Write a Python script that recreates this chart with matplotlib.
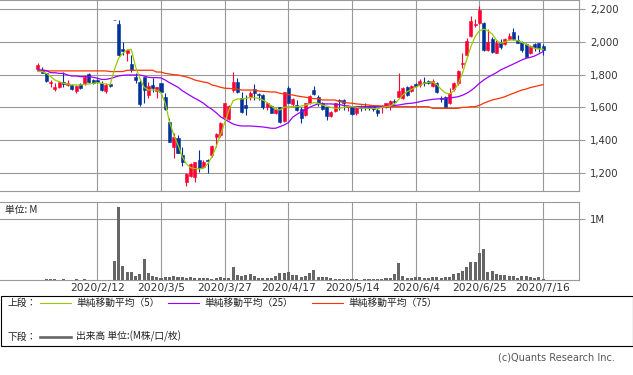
import matplotlib
matplotlib.use('Agg')
import matplotlib.pyplot as plt
from matplotlib.lines import Line2D
from matplotlib.patches import Rectangle
import numpy as np

# ─────────────────────────────────────────────
# data
# ─────────────────────────────────────────────
dates = (
    ['2020/1/%d' % d for d in (22, 23, 24, 27, 28, 29, 30, 31)]
    + ['2020/2/%d' % d for d in (3, 4, 5, 6, 7, 10, 12, 13, 14, 17, 18, 19, 20, 21, 25, 26, 27, 28)]
    + ['2020/3/%d' % d for d in (2, 3, 4, 5, 6, 9, 10, 11, 12, 13, 16, 17, 18, 19, 23, 24, 25, 26, 27, 30, 31)]
    + ['2020/4/%d' % d for d in (1, 2, 3, 6, 7, 8, 9, 10, 13, 14, 15, 16, 17, 20, 21, 22, 23, 24, 27, 28, 30)]
    + ['2020/5/%d' % d for d in (1, 7, 8, 11, 12, 13, 14, 15, 18, 19, 20, 21, 22, 25, 26, 27, 28, 29)]
    + ['2020/6/%d' % d for d in (1, 2, 3, 4, 5, 8, 9, 10, 11, 12, 15, 16, 17, 18, 19, 22, 23, 24, 25, 26, 29, 30)]
    + ['2020/7/%d' % d for d in (1, 2, 3, 6, 7, 8, 9, 10, 13, 14, 15, 16)]
)

open_ = [1835, 1827, 1808, 1747, 1710, 1723, 1753, 1739, 1735, 1700,
         1743, 1741, 1804, 1767, 1767, 1747, 1702, 1743, 2133, 2110,
         1957, 1931, 1865, 1784, 1757, 1784, 1676, 1737, 1702, 1747,
         1666, 1510, 1360, 1411, 1309, 1145, 1180, 1176, 1278, 1237,
         1278, 1309, 1417, 1431, 1543, 1527, 1706, 1757, 1659, 1614,
         1661, 1710, 1682, 1676, 1600, 1608, 1563, 1600, 1519, 1720,
         1621, 1617, 1588, 1551, 1625, 1706, 1661, 1625, 1600, 1547,
         1580, 1645, 1645, 1600, 1600, 1563, 1604, 1608, 1608, 1608,
         1584, 1600, 1604, 1621, 1641, 1661, 1655, 1727, 1702, 1743,
         1737, 1757, 1761, 1731, 1751, 1655, 1661, 1629, 1710, 1747,
         1865, 1920, 2037, 2102, 2118, 2118, 1951, 2016, 1935, 2002,
         1988, 2016, 2063, 2012, 2002, 1988, 1931, 1986, 1992, 1978]
high = [1869, 1849, 1812, 1767, 1751, 1763, 1818, 1767, 1743, 1737,
        1747, 1796, 1808, 1772, 1774, 1759, 1747, 1747, 2133, 2135,
        2002, 1959, 1920, 1808, 1767, 1788, 1757, 1778, 1727, 1751,
        1686, 1533, 1441, 1431, 1360, 1196, 1257, 1268, 1339, 1278,
        1282, 1368, 1441, 1512, 1629, 1614, 1818, 1782, 1696, 1676,
        1702, 1743, 1686, 1680, 1635, 1612, 1594, 1604, 1696, 1731,
        1655, 1645, 1600, 1629, 1676, 1731, 1676, 1635, 1604, 1580,
        1629, 1651, 1649, 1614, 1604, 1608, 1612, 1625, 1614, 1612,
        1594, 1614, 1629, 1645, 1649, 1812, 1723, 1731, 1737, 1747,
        1772, 1784, 1767, 1776, 1757, 1670, 1670, 1716, 1757, 1829,
        1931, 2022, 2159, 2139, 2220, 2124, 2078, 2029, 2012, 2016,
        2022, 2053, 2086, 2043, 2008, 1996, 1982, 1992, 1996, 1986]
low = [1829, 1808, 1757, 1727, 1700, 1716, 1723, 1731, 1706, 1690,
       1714, 1735, 1751, 1743, 1749, 1702, 1690, 1723, 2133, 1916,
       1920, 1884, 1819, 1751, 1608, 1629, 1655, 1696, 1655, 1676,
       1584, 1386, 1288, 1319, 1243, 1119, 1176, 1145, 1206, 1231,
       1196, 1298, 1360, 1421, 1519, 1523, 1696, 1690, 1564, 1553,
       1645, 1645, 1645, 1590, 1584, 1563, 1559, 1506, 1512, 1625,
       1604, 1578, 1506, 1547, 1621, 1676, 1608, 1584, 1523, 1543,
       1574, 1584, 1584, 1580, 1553, 1553, 1580, 1584, 1584, 1580,
       1547, 1567, 1594, 1584, 1621, 1655, 1649, 1670, 1696, 1727,
       1723, 1731, 1743, 1723, 1686, 1635, 1600, 1621, 1702, 1737,
       1839, 1914, 2033, 2090, 2110, 1947, 1947, 1935, 1931, 1955,
       1982, 2012, 2012, 1992, 1941, 1906, 1927, 1947, 1941, 1920]
close = [1859, 1812, 1763, 1755, 1727, 1757, 1743, 1749, 1714, 1731,
         1720, 1788, 1755, 1747, 1755, 1706, 1737, 1731, 2133, 1918,
         1947, 1951, 1829, 1767, 1621, 1706, 1731, 1716, 1723, 1696,
         1588, 1390, 1421, 1323, 1268, 1192, 1253, 1264, 1227, 1268,
         1270, 1364, 1437, 1502, 1625, 1608, 1757, 1696, 1574, 1594,
         1690, 1690, 1674, 1600, 1629, 1567, 1588, 1512, 1692, 1629,
         1649, 1584, 1533, 1625, 1670, 1682, 1625, 1588, 1547, 1574,
         1625, 1639, 1625, 1608, 1559, 1604, 1594, 1600, 1598, 1588,
         1563, 1608, 1625, 1639, 1635, 1702, 1716, 1676, 1731, 1733,
         1763, 1747, 1747, 1763, 1696, 1649, 1604, 1686, 1747, 1825,
         1873, 2008, 2131, 2110, 2196, 1951, 2002, 1941, 1996, 1972,
         2016, 2037, 2016, 1996, 1951, 1910, 1976, 1972, 1961, 1951]

ma5 = [1819, 1819, 1808, 1788, 1767, 1757, 1747, 1743, 1737, 1737,
       1737, 1741, 1743, 1747, 1751, 1747, 1743, 1737, 1829, 1900,
       1931, 1951, 1955, 1849, 1778, 1723, 1706, 1706, 1706, 1690,
       1625, 1512, 1431, 1370, 1298, 1253, 1231, 1225, 1223, 1227,
       1253, 1298, 1360, 1431, 1506, 1584, 1641, 1651, 1651, 1655,
       1661, 1659, 1655, 1645, 1629, 1608, 1588, 1584, 1600, 1604,
       1604, 1604, 1608, 1614, 1621, 1629, 1625, 1614, 1608, 1600,
       1594, 1594, 1600, 1604, 1604, 1600, 1596, 1594, 1594, 1594,
       1590, 1600, 1604, 1608, 1621, 1649, 1676, 1696, 1710, 1723,
       1735, 1747, 1753, 1755, 1739, 1710, 1688, 1682, 1702, 1743,
       1808, 1890, 1972, 2033, 2069, 2078, 2069, 2049, 2012, 1992,
       2000, 2012, 2012, 2008, 1998, 1986, 1972, 1961, 1957, 1955]
ma25 = [1829, 1829, 1825, 1812, 1812, 1808, 1808, 1798, 1792, 1792,
        1788, 1788, 1788, 1784, 1778, 1771, 1771, 1776, 1784, 1792,
        1796, 1798, 1798, 1798, 1798, 1792, 1784, 1782, 1782, 1780,
        1767, 1751, 1737, 1723, 1702, 1686, 1670, 1655, 1641, 1625,
        1604, 1588, 1567, 1543, 1527, 1512, 1498, 1490, 1486, 1486,
        1486, 1484, 1482, 1480, 1476, 1472, 1472, 1482, 1492, 1506,
        1539, 1557, 1572, 1584, 1600, 1612, 1621, 1621, 1621, 1621,
        1619, 1617, 1612, 1608, 1604, 1604, 1604, 1604, 1604, 1604,
        1604, 1604, 1606, 1608, 1612, 1614, 1619, 1623, 1625, 1629,
        1635, 1641, 1645, 1649, 1651, 1653, 1655, 1657, 1661, 1665,
        1674, 1686, 1702, 1723, 1747, 1767, 1784, 1798, 1812, 1829,
        1841, 1853, 1865, 1878, 1890, 1900, 1906, 1914, 1927, 1941]
ma75 = [1823, 1823, 1823, 1823, 1823, 1823, 1823, 1823, 1823, 1823,
        1823, 1823, 1823, 1823, 1823, 1823, 1823, 1819, 1819, 1819,
        1819, 1827, 1827, 1827, 1827, 1827, 1827, 1827, 1816, 1816,
        1808, 1804, 1800, 1798, 1792, 1786, 1778, 1767, 1761, 1755,
        1751, 1737, 1731, 1723, 1717, 1716, 1714, 1712, 1706, 1706,
        1706, 1706, 1700, 1698, 1696, 1694, 1694, 1686, 1682, 1678,
        1676, 1670, 1666, 1662, 1657, 1653, 1653, 1645, 1645, 1645,
        1645, 1635, 1631, 1627, 1625, 1621, 1619, 1616, 1614, 1610,
        1610, 1608, 1608, 1604, 1604, 1604, 1604, 1604, 1604, 1604,
        1604, 1604, 1604, 1594, 1594, 1594, 1594, 1594, 1594, 1594,
        1600, 1600, 1604, 1604, 1612, 1625, 1635, 1645, 1651, 1657,
        1665, 1676, 1686, 1696, 1706, 1712, 1721, 1727, 1733, 1739]

# volume in millions
volume = [0.005, 0.01, 0.027, 0.027, 0.027, 0.01, 0.022, 0.01, 0.01, 0.022,
          0.01, 0.022, 0.005, 0.005, 0.005, 0.005, 0.005, 0.005, 0.317, 1.2,
          0.235, 0.137, 0.137, 0.071, 0.104, 0.355, 0.126, 0.071, 0.055, 0.044,
          0.055, 0.055, 0.066, 0.055, 0.055, 0.044, 0.055, 0.038, 0.038, 0.044,
          0.038, 0.027, 0.044, 0.055, 0.044, 0.044, 0.219, 0.087, 0.066, 0.082,
          0.104, 0.071, 0.044, 0.044, 0.044, 0.044, 0.071, 0.115, 0.115, 0.137,
          0.093, 0.087, 0.055, 0.071, 0.120, 0.169, 0.060, 0.060, 0.060, 0.033,
          0.027, 0.022, 0.022, 0.022, 0.022, 0.016, 0.005, 0.022, 0.022, 0.022,
          0.022, 0.027, 0.038, 0.038, 0.104, 0.284, 0.071, 0.044, 0.044, 0.055,
          0.049, 0.033, 0.044, 0.049, 0.055, 0.044, 0.060, 0.060, 0.10, 0.12,
          0.15, 0.22, 0.30, 0.30, 0.45, 0.52, 0.14, 0.15, 0.11, 0.09,
          0.09, 0.07, 0.07, 0.04, 0.07, 0.07, 0.06, 0.04, 0.05, 0.015]

tick_dates = ['2020/2/12', '2020/3/5', '2020/3/27', '2020/4/17',
              '2020/5/14', '2020/6/4', '2020/6/25', '2020/7/16']
price_ticks = [1200, 1400, 1600, 1800, 2000, 2200]

# ─────────────────────────────────────────────
# styling
# ─────────────────────────────────────────────
RED = '#ff0033'
BLUE = '#003399'
GRID = '#999999'
TXT = '#333333'
JP = ['Noto Sans CJK JP', 'DejaVu Sans']

W, H = 633, 375
fig = plt.figure(figsize=(W / 100, H / 100), dpi=100)
fig.patch.set_facecolor('white')


def fx(px):
    return px / W


def fy(py):
    return 1 - py / H


x = np.arange(len(dates))
tick_pos = [dates.index(d) for d in tick_dates]
XLIM = (-8.93, 127.47)


def frame(ax):
    ax.set_xlim(*XLIM)
    ax.set_xticks(tick_pos)
    ax.grid(True, color=GRID, lw=0.8)
    ax.set_axisbelow(True)
    for s in ('top', 'bottom', 'right'):
        ax.spines[s].set_color(GRID)
        ax.spines[s].set_linewidth(0.8)
    ax.spines['left'].set_visible(False)
    ax.yaxis.tick_right()
    ax.tick_params(axis='y', direction='out', length=4.5, width=0.8,
                   color=GRID, labelcolor=TXT, labelsize=7.3, pad=3.5)
    ax.tick_params(axis='x', length=0)


# ── price panel ──
ax = fig.add_axes([fx(0), fy(191), fx(579), 191 / H])
frame(ax)
o = np.array(open_)
c = np.array(close)
cols = np.where(c > o, RED, BLUE)
ax.vlines(x, low, high, colors=cols, lw=0.8, zorder=2)
ax.bar(x, np.abs(c - o), bottom=np.minimum(o, c), width=0.72,
       color=cols, edgecolor=cols, linewidth=0.4, zorder=3)
ax.plot(x, ma75, color='#ff3300', lw=0.9, zorder=4)
ax.plot(x, ma25, color='#9900ff', lw=0.9, zorder=5)
ax.plot(x, ma5, color='#99cc00', lw=0.9, zorder=6)
ax.set_ylim(1088, 2257)
ax.set_yticks(price_ticks)
ax.set_yticklabels([f'{v:,}' for v in price_ticks])
ax.set_xticklabels([])

# ── volume panel ──
axv = fig.add_axes([fx(0), fy(280.3), fx(579), (280.3 - 202) / H])
frame(axv)
axv.bar(x, volume, width=0.72, color='#666666', zorder=3)
axv.set_ylim(0, 1.284)
axv.set_yticks([1.0])
axv.set_yticklabels(['1M'])
axv.set_xticklabels(tick_dates, fontsize=7.7, color=TXT)
axv.tick_params(axis='x', pad=2)
fig.text(fx(5), fy(210), '単位: M', fontsize=7, color='#222222',
         family=JP, va='center', ha='left')

# ── legend box ──
fig.add_artist(Rectangle((fx(0.5), fy(346)), fx(632), (346 - 295.7) / H,
                         transform=fig.transFigure, fill=False,
                         edgecolor='black', lw=0.8))
row1, row2 = 302.7, 336.7
fig.text(fx(8), fy(row1), '上段：', fontsize=7, family=JP, color='#222222', va='center')
fig.text(fx(8), fy(row2), '下段：', fontsize=7, family=JP, color='#222222', va='center')
legend_items = [(40, '#99cc00', '単純移動平均（5）'),
                (168, '#9900ff', '単純移動平均（25）'),
                (312, '#ff3300', '単純移動平均（75）')]
for x0, col, label in legend_items:
    fig.add_artist(Line2D([fx(x0), fx(x0 + 31)], [fy(row1)] * 2, color=col, lw=0.8))
    fig.text(fx(x0 + 36), fy(row1), label, fontsize=7, family=JP,
             color='#222222', va='center')
fig.add_artist(Line2D([fx(40), fx(71)], [fy(row2)] * 2, color='#666666', lw=1.9))
fig.text(fx(76), fy(row2), '出来高 単位:(M株/口/枚)', fontsize=7, family=JP,
         color='#222222', va='center')

fig.text(fx(615), fy(357.5), '(c)Quants Research Inc.', fontsize=7,
         color='#555555', ha='right', va='center')

fig.savefig('out.png', dpi=100, facecolor='white')
